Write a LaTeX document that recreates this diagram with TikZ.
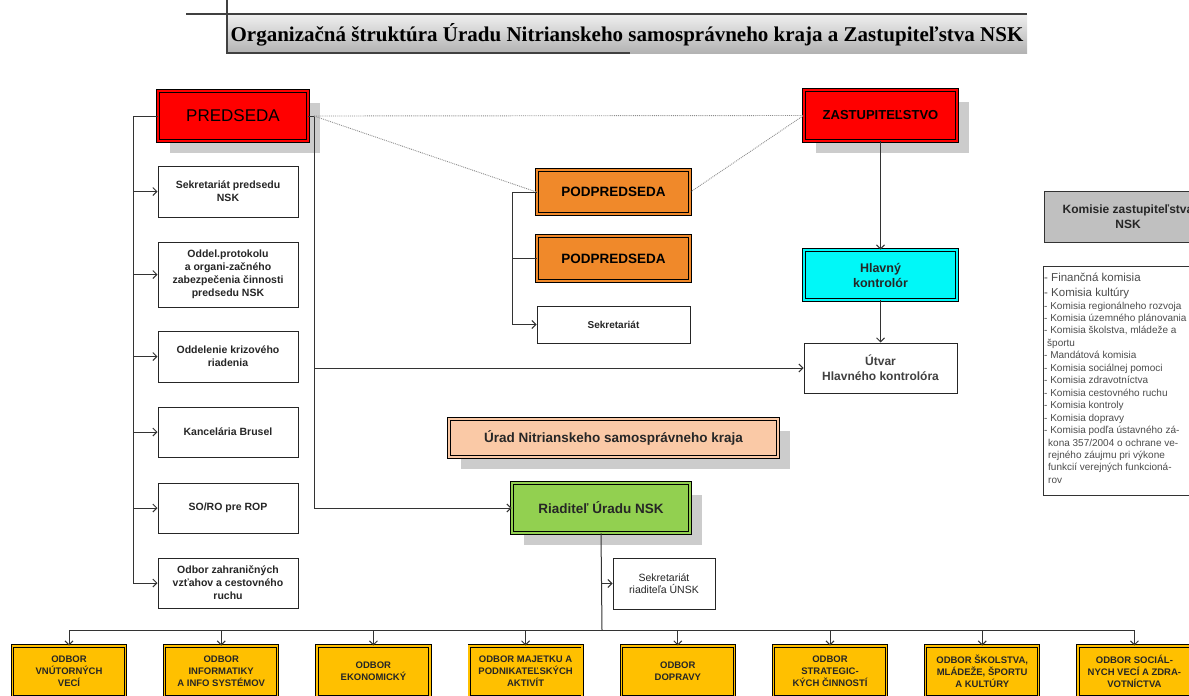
\documentclass[tikz,border=0pt]{standalone}
\usepackage{fontspec}
\setmainfont{Liberation Sans}
\newfontfamily\titlefont{Liberation Serif}
\usetikzlibrary{arrows.meta,shadows}
\definecolor{predred}{HTML}{FF0000}
\definecolor{podorange}{HTML}{F0892A}
\definecolor{kontcyan}{HTML}{00F8F8}
\definecolor{riadgreen}{HTML}{92D050}
\definecolor{odboryellow}{HTML}{FFC000}
\definecolor{uradpeach}{HTML}{FAC9A6}
\definecolor{komgray}{HTML}{C0C0C0}
\definecolor{shadowgray}{HTML}{CCCCCC}

\begin{document}
\begin{tikzpicture}[x=1pt,y=-1pt,
  every node/.style={align=center,inner sep=1pt},
  >={Straight Barb[length=4pt,width=8pt]},
  conn/.style={draw=black!80,line width=1pt},
  dotconn/.style={draw=black!45,line width=0.9pt,densely dotted},
  wbox/.style={draw=black!85,fill=white,line width=1pt,text=black!85,
    font=\bfseries\fontsize{10.5}{13}\selectfont,minimum width=140pt,minimum height=51pt},
  dbox/.style={draw=black,line width=0.9pt,double distance=1.4pt,text=black},
  shad/.style={drop shadow={shadow xshift=12pt,shadow yshift=-12pt,fill=shadowgray,opacity=1}},
  odbor/.style={dbox,fill=odboryellow,double=odboryellow,minimum width=113pt,minimum height=51pt,
    font=\bfseries\fontsize{9.5}{12}\selectfont,text=black!85}]
\useasboundingbox (0,0) rectangle (1189,696);

% nadpis
\shade[top color=gray!12,bottom color=gray!60] (227,14) rectangle (1027,53);
\draw[black!75,line width=1.2pt] (186,14) -- (1027,14);
\draw[black!75,line width=1.2pt] (227,0) -- (227,53) -- (630,53);
\node[font=\titlefont\bfseries\fontsize{21}{23}\selectfont] (title) at (627,35)
  {Organizačná štruktúra Úradu Nitrianskeho samosprávneho kraja a Zastupiteľstva NSK};

% predseda a zastupitelstvo
\node[dbox,shad,fill=predred,double=predred,minimum width=150pt,minimum height=50pt,
  font=\fontsize{17}{19}\selectfont] (pred) at (233,116) {PREDSEDA};
\node[dbox,shad,fill=predred,double=predred,minimum width=153pt,minimum height=51pt,
  font=\bfseries\fontsize{13}{15}\selectfont] (zast) at (880.5,115.5) {ZASTUPITEĽSTVO};

% lavy stlpec
\node[wbox] (l1) at (228,191.5) {Sekretariát predsedu\\NSK};
\node[wbox,minimum height=65pt] (l2) at (228,274.5) {Oddel.protokolu\\a organi-začného\\zabezpečenia činnosti\\predsedu NSK};
\node[wbox] (l3) at (228,356.5) {Oddelenie krizového\\riadenia};
\node[wbox,minimum height=50pt] (l4) at (228,432) {Kancelária Brusel};
\node[wbox,minimum height=50pt] (l5) at (228,508) {SO/RO pre ROP};
\node[wbox,minimum height=50pt] (l6) at (228,583) {Odbor zahraničných\\vzťahov a cestovného\\ruchu};

% podpredsedovia
\node[dbox,fill=podorange,double=podorange,minimum width=153pt,minimum height=44pt,
  font=\bfseries\fontsize{13.5}{15}\selectfont] (pod1) at (613.5,192) {PODPREDSEDA};
\node[dbox,fill=podorange,double=podorange,minimum width=153pt,minimum height=45pt,
  font=\bfseries\fontsize{13.5}{15}\selectfont] (pod2) at (613.5,258.5) {PODPREDSEDA};
\node[wbox,minimum width=153pt,minimum height=37pt,font=\bfseries\fontsize{10}{12}\selectfont] (sek) at (613.5,324.5) {Sekretariát};

% hlavny kontrolor
\node[dbox,fill=kontcyan,double=kontcyan,minimum width=153pt,minimum height=50pt,
  font=\bfseries\fontsize{12.5}{15}\selectfont,text=black!85] (hk) at (880.5,275) {Hlavný\\kontrolór};
\node[wbox,minimum width=153pt,minimum height=50pt,font=\bfseries\fontsize{12}{15}\selectfont,text=black!75] (utv) at (880.5,368) {Útvar\\Hlavného kontrolóra};

% urad a riaditel
\node[dbox,shad,fill=uradpeach,double=uradpeach,minimum width=329pt,minimum height=38pt,
  font=\bfseries\fontsize{13.5}{15}\selectfont,text=black!85] (urad) at (613.5,438) {Úrad Nitrianskeho samosprávneho kraja};
\node[dbox,shad,fill=riadgreen,double=riadgreen,minimum width=178pt,minimum height=50pt,
  font=\bfseries\fontsize{13.5}{15}\selectfont,text=black!85] (riad) at (601,508) {Riaditeľ Úradu NSK};
\node[wbox,minimum width=102pt,minimum height=51pt,font=\fontsize{10.5}{12.5}\selectfont] (sekr) at (664,583.5) {Sekretariát\\riaditeľa ÚNSK};

% komisie
\node[draw=black!80,line width=1pt,fill=komgray,minimum width=168pt,minimum height=51pt,
  font=\bfseries\fontsize{12}{15}\selectfont,text=black!85] (kom) at (1128,216.5) {Komisie zastupiteľstva\\NSK};
\node[draw=black!80,line width=1pt,fill=white,minimum width=168pt,minimum height=229pt] (koml) at (1127,380.5) {};
\node[anchor=north west,align=left,inner sep=0pt,text=black!70,font=\fontsize{10}{12.45}\selectfont] (komt) at (1044,273)
  {{\fontsize{11.5}{12}\selectfont - Finančná komisia}\\[2.5pt]
   {\fontsize{11.5}{12}\selectfont - Komisia kultúry}\\
   - Komisia regionálneho rozvoja\\
   - Komisia územného plánovania\\
   - Komisia školstva, mládeže a\\
   \hspace*{3pt}športu\\
   - Mandátová komisia\\
   - Komisia sociálnej pomoci\\
   - Komisia zdravotníctva\\
   - Komisia cestovného ruchu\\
   - Komisia kontroly\\
   - Komisia dopravy\\
   - Komisia podľa ústavného zá-\\
   \hspace*{4pt}kona 357/2004 o ochrane ve-\\
   \hspace*{4pt}rejného záujmu pri výkone\\
   \hspace*{4pt}funkcií verejných funkcioná-\\
   \hspace*{4pt}rov};

% odbory
\node[odbor] (o1) at (69,671.5) {ODBOR\\VNÚTORNÝCH\\VECÍ};
\node[odbor] (o2) at (221.2,671.5) {ODBOR\\INFORMATIKY\\A INFO SYSTÉMOV};
\node[odbor] (o3) at (373.4,671.5) {ODBOR\\EKONOMICKÝ};
\node[odbor] (o4) at (525.6,671.5) {ODBOR MAJETKU A\\PODNIKATEĽSKÝCH\\AKTIVÍT};
\node[odbor] (o5) at (677.8,671.5) {ODBOR\\DOPRAVY};
\node[odbor] (o6) at (830,671.5) {ODBOR\\STRATEGIC-\\KÝCH ČINNOSTÍ};
\node[odbor] (o7) at (982.2,671.5) {ODBOR ŠKOLSTVA,\\MLÁDEŽE, ŠPORTU\\A KULTÚRY};
\node[odbor] (o8) at (1134.4,671.5) {ODBOR SOCIÁL-\\NYCH VECÍ A ZDRA-\\VOTNÍCTVA};

% spojnice
\coordinate (pl) at (133,116);
\coordinate (pr) at (314,116);
\coordinate (pp) at (512,192);
\coordinate (bus) at (602,630);
\draw[conn,->] (pred.west) -- (pl) |- (l6.west);
\foreach \i in {1,...,5}
  \draw[conn,->] (pl |- l\i.west) -- (l\i.west);
\draw[conn,->] (pred.east) -- (pr) |- (riad.west);
\draw[conn,->] (pr |- utv.west) -- (utv.west);
\draw[dotconn] (pr) -- (zast.west);
\draw[dotconn] (pr) -- (pod1.west);
\draw[dotconn] (pod1.east) -- (zast.west);
\draw[conn,->] (pod1.west) -- (pp) |- (sek.west);
\draw[conn] (pp |- pod2.west) -- (pod2.west);
\draw[conn,->] (zast) -- (hk);
\draw[conn,->] (hk) -- (utv);
\draw[conn] (riad.south) -- (bus);
\draw[conn,->] (riad.south |- sekr.west) -- (sekr.west);
\draw[conn] (o1.north |- bus) -- (o8.north |- bus);
\foreach \i in {1,...,8}
  \draw[conn,->] (o\i.north |- bus) -- (o\i.north);
\end{tikzpicture}
\end{document}
